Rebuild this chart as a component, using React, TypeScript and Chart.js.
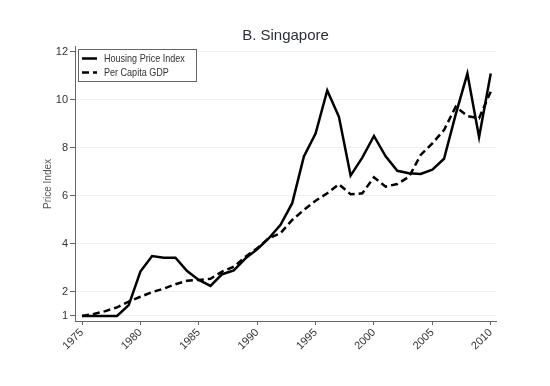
import React, { useEffect, useRef } from "react";
import { Chart, registerables } from "chart.js";

Chart.register(...registerables);

const years = [
  1975, 1976, 1977, 1978, 1979, 1980, 1981, 1982, 1983, 1984, 1985, 1986,
  1987, 1988, 1989, 1990, 1991, 1992, 1993, 1994, 1995, 1996, 1997, 1998,
  1999, 2000, 2001, 2002, 2003, 2004, 2005, 2006, 2007, 2008, 2009, 2010,
];

const housingPriceIndex = [
  1.0, 1.0, 1.0, 1.0, 1.45, 2.85, 3.5, 3.43, 3.43, 2.87, 2.5, 2.25,
  2.74, 2.9, 3.4, 3.78, 4.24, 4.8, 5.7, 7.65, 8.6, 10.4, 9.3, 6.85,
  7.6, 8.5, 7.65, 7.05, 6.95, 6.92, 7.1, 7.55, 9.4, 11.1, 8.45, 11.1,
];

const perCapitaGDP = [
  1.0, 1.08, 1.2, 1.36, 1.6, 1.8, 1.99, 2.14, 2.32, 2.47, 2.5, 2.55,
  2.85, 3.05, 3.47, 3.82, 4.24, 4.45, 5.0, 5.42, 5.8, 6.11, 6.49, 6.07,
  6.11, 6.78, 6.39, 6.5, 6.8, 7.71, 8.19, 8.75, 9.72, 9.33, 9.24, 10.35,
];

const xTickValues = [1975, 1980, 1985, 1990, 1995, 2000, 2005, 2010];
const yTickValues = [1, 2, 4, 6, 8, 10, 12];
const seriesLabels = ["Housing Price Index", "Per Capita GDP"];
const chartTitle = "B. Singapore";
const yAxisTitle = "Price Index";

const FONT = "'Liberation Sans', Arial, sans-serif";

const overlayPlugin = {
  id: "overlay",
  afterDraw(chart: any) {
    const ctx = chart.ctx;
    const area = chart.chartArea;
    ctx.save();
    // Title
    ctx.fillStyle = "#2b2f3a";
    ctx.font = `15px ${FONT}`;
    ctx.textAlign = "center";
    ctx.textBaseline = "middle";
    ctx.fillText(chartTitle, (area.left + area.right) / 2, 36);

    // Y axis title
    ctx.save();
    ctx.translate(48, 184);
    ctx.rotate(-Math.PI / 2);
    ctx.fillStyle = "#555";
    ctx.font = `10px ${FONT}`;
    ctx.fillText(yAxisTitle, 0, 0);
    ctx.restore();

    // Legend
    const lx = 78.5, ly = 49.5, lw = 118, lh = 32;
    ctx.fillStyle = "#fff";
    ctx.fillRect(lx, ly, lw, lh);
    ctx.strokeStyle = "#666";
    ctx.lineWidth = 1;
    ctx.strokeRect(lx, ly, lw, lh);
    const rows = [58.5, 72.5];
    chart.data.datasets.forEach((ds: any, i: number) => {
      ctx.beginPath();
      ctx.setLineDash(ds.borderDash || []);
      ctx.strokeStyle = ds.borderColor;
      ctx.lineWidth = ds.borderWidth;
      ctx.moveTo(82, rows[i]);
      ctx.lineTo(97, rows[i]);
      ctx.stroke();
      ctx.setLineDash([]);
      ctx.save();
      ctx.translate(104, rows[i] + 0.5);
      ctx.scale(0.86, 1);
      ctx.fillStyle = "#333";
      ctx.font = `10.5px ${FONT}`;
      ctx.textAlign = "left";
      ctx.textBaseline = "middle";
      ctx.fillText(ds.label, 0, 0);
      ctx.restore();
    });
    ctx.restore();
  },
};

export default function App() {
  const ref = useRef<HTMLCanvasElement | null>(null);

  useEffect(() => {
    document.body.style.margin = "0";
    const canvas = ref.current;
    if (!canvas) return;
    const chart = new Chart(canvas, {
      type: "line",
      data: {
        datasets: [
          {
            label: seriesLabels[0],
            data: years.map((y, i) => ({ x: y, y: housingPriceIndex[i] })),
            borderColor: "#000",
            borderWidth: 2.5,
            pointRadius: 0,
            tension: 0,
            fill: false,
          },
          {
            label: seriesLabels[1],
            data: years.map((y, i) => ({ x: y, y: perCapitaGDP[i] })),
            borderColor: "#000",
            borderWidth: 2.5,
            borderDash: [7, 4],
            pointRadius: 0,
            tension: 0,
            fill: false,
          },
        ],
      },
      options: {
        animation: false,
        responsive: false,
        layout: { padding: { left: 0, top: 46, right: 54, bottom: 0 } },
        plugins: {
          legend: { display: false },
          title: { display: false },
          tooltip: { enabled: false },
        },
        scales: {
          x: {
            type: "linear",
            min: 1974.4,
            max: 2010.45,
            afterFit: (s: any) => {
              s.height = 65;
            },
            afterBuildTicks: (s: any) => {
              s.ticks = xTickValues.map((v) => ({ value: v }));
            },
            ticks: {
              autoSkip: false,
              maxRotation: 45,
              minRotation: 45,
              padding: 1,
              color: "#333",
              font: { family: FONT, size: 11 },
              callback: (v: any) => String(v),
            },
            grid: {
              drawOnChartArea: false,
              drawTicks: true,
              tickLength: 4,
              tickColor: "#666",
            },
            border: { color: "#666", width: 1 },
          },
          y: {
            type: "linear",
            min: 0.79,
            max: 12.25,
            afterFit: (s: any) => {
              s.width = 75;
            },
            afterBuildTicks: (s: any) => {
              s.ticks = yTickValues.map((v) => ({ value: v }));
            },
            ticks: {
              autoSkip: false,
              padding: 2,
              color: "#333",
              font: { family: FONT, size: 11 },
              callback: (v: any) => String(v),
            },
            grid: {
              color: "#f0f0f0",
              lineWidth: 1,
              drawTicks: true,
              tickLength: 5,
              tickColor: "#666",
            },
            border: { color: "#666", width: 1 },
          },
        },
      },
      plugins: [overlayPlugin],
    });
    return () => chart.destroy();
  }, []);

  return (
    <div style={{ width: 550, height: 386, background: "#fff" }}>
      <canvas ref={ref} width={550} height={386} />
    </div>
  );
}
